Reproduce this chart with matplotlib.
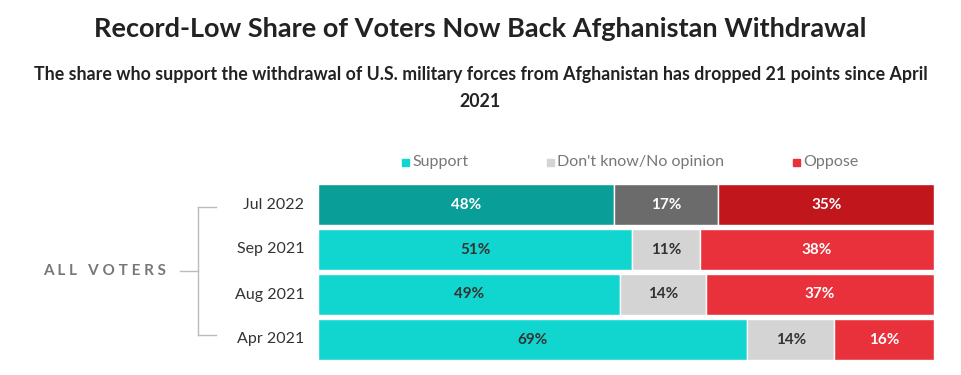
import matplotlib
matplotlib.use('Agg')
import matplotlib.pyplot as plt

plt.rcParams['font.family'] = ['Lato', 'DejaVu Sans']

# data, top row first
waves = ['Jul 2022', 'Sep 2021', 'Aug 2021', 'Apr 2021']
support = [48, 51, 49, 69]
dont_know = [17, 11, 14, 14]
oppose = [35, 38, 37, 16]

series_names = ['Support', "Don't know/No opinion", 'Oppose']
colors_latest = ['#0a9e98', '#6b6b6b', '#c0161c']
colors_other = ['#11d6cf', '#d4d4d4', '#e8313a']
text_other = ['#333333', '#333333', 'white']

W, H = 961, 375
fig = plt.figure(figsize=(W / 100, H / 100), dpi=100)

fig.text(0.5, 1 - 29 / H, 'Record-Low Share of Voters Now Back Afghanistan Withdrawal',
         ha='center', va='center', fontsize=19.5, fontweight='bold', color='#222222')
fig.text(0.5, 1 - 88 / H, 'The share who support the withdrawal of U.S. military forces from Afghanistan has dropped 21 points since April\n2021',
         ha='center', va='center', fontsize=12.8, fontweight='bold', color='#222222',
         linespacing=1.75)

ax = fig.add_axes([318 / W, 1 - 362 / H, (934 - 318) / W, 180 / H])
ax.set_xlim(0, 1)
ax.set_ylim(3.5, -0.5)
ax.axis('off')

data = [support, dont_know, oppose]
for i, wave in enumerate(waves):
    total = sum(d[i] for d in data)
    left = 0
    for k in range(3):
        v = data[k][i]
        w = v / total
        col = colors_latest[k] if i == 0 else colors_other[k]
        ax.barh(i, w, left=left, height=0.9, color=col, edgecolor='white', linewidth=1)
        tcol = 'white' if i == 0 else text_other[k]
        ax.text(left + w / 2, i, f'{v}%', ha='center', va='center',
                fontsize=11, fontweight='bold', color=tcol)
        left += w
    ax.text(-0.022, i, wave, ha='right', va='center', fontsize=11.5, color='#333333')

# legend
leg_x = [402, 547, 793]
for name, col, x in zip(series_names, colors_other, leg_x):
    fig.patches.append(plt.Rectangle((x / W, 1 - 166 / H), 7 / W, 7 / H,
                                     transform=fig.transFigure, color=col))
    fig.text((x + 10) / W, 1 - 162 / H, name, ha='left', va='center',
             fontsize=11.5, color='#777777')

# bracket
br = '#bbbbbb'
fig.add_artist(plt.Line2D([198 / W, 198 / W], [1 - 207 / H, 1 - 335 / H], color=br, lw=1))
fig.add_artist(plt.Line2D([198 / W, 216 / W], [1 - 207 / H, 1 - 207 / H], color=br, lw=1))
fig.add_artist(plt.Line2D([198 / W, 216 / W], [1 - 335 / H, 1 - 335 / H], color=br, lw=1))
fig.add_artist(plt.Line2D([180 / W, 198 / W], [1 - 271 / H, 1 - 271 / H], color=br, lw=1))
fig.text(105 / W, 1 - 271 / H, 'A L L   V O T E R S', ha='center', va='center',
         fontsize=11, fontweight='bold', color='#777777')

fig.savefig('out.png', dpi=100)
